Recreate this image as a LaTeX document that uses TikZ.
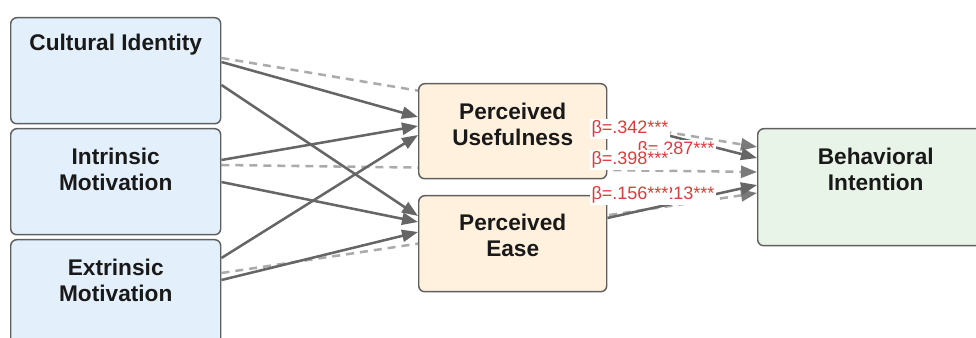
\documentclass[tikz,border=0pt]{standalone}
\usepackage{fontspec}
\setmainfont{Liberation Sans}
\usetikzlibrary{arrows.meta,calc}
\definecolor{edgegray}{HTML}{666666}
\definecolor{dashgray}{HTML}{ABABAB}
\definecolor{dashhead}{HTML}{7A7A7A}
\definecolor{boxborder}{HTML}{5F5F5F}
\definecolor{cblue}{HTML}{E3F0FC}
\definecolor{corange}{HTML}{FFF1DE}
\definecolor{cgreen}{HTML}{E8F4E8}
\definecolor{coefred}{HTML}{DE3B3B}
\pgfdeclarelayer{background}
\pgfsetlayers{background,main}
\begin{document}
\begin{tikzpicture}[x=0.75pt,y=-0.75pt,
  box/.style={draw=boxborder, line width=1.1pt, rounded corners=4.5pt,
    anchor=north west, inner sep=0pt},
  nodetitle/.style={font=\bfseries\fontsize{17pt}{19.5pt}\selectfont,
    align=center, text=black!90, inner sep=0pt, anchor=north},
  path/.style={draw=edgegray, line width=1.9pt,
    -{Triangle[length=12pt,width=9pt]}},
  direct/.style={draw=dashgray, line width=1.9pt, dash pattern=on 6pt off 4.5pt,
    -{Triangle[length=12pt,width=9pt,color=dashhead]}},
  coef/.style={fill=white, text=coefred, font=\fontsize{13.5pt}{16pt}\selectfont,
    inner xsep=1.5pt, inner ysep=1pt}]
\useasboundingbox (0,0) rectangle (976,338);

% constructs
\node[box, fill=cblue, minimum width=157.5pt, minimum height=79.5pt,
  label={[nodetitle, yshift=-12.75pt]north:Cultural Identity}] (ci) at (10,17) {};
\node[box, fill=cblue, minimum width=157.5pt, minimum height=79.5pt,
  label={[nodetitle, yshift=-15pt]north:Intrinsic\\Motivation}] (im) at (10,128) {};
\node[box, fill=cblue, minimum width=157.5pt, minimum height=79.5pt,
  label={[nodetitle, yshift=-15pt]north:Extrinsic\\Motivation}] (em) at (10,239) {};
\node[box, fill=corange, minimum width=141pt, minimum height=71.25pt,
  label={[nodetitle, yshift=-15pt]north:Perceived\\Usefulness}] (pu) at (418,83) {};
\node[box, fill=corange, minimum width=141pt, minimum height=72pt,
  label={[nodetitle, yshift=-14.25pt]north:Perceived\\Ease}] (pe) at (418,195) {};
\node[box, fill=cgreen, minimum width=177pt, minimum height=87.75pt,
  label={[nodetitle, yshift=-15pt]north:Behavioral\\Intention}] (bi) at (757,128) {};

\begin{pgfonlayer}{background}
% direct effects on intention
\draw[direct] ($(ci.north east)+(0,41)$) -- ($(bi.north west)+(0,19)$);
\draw[direct] ($(im.north east)+(0,37)$) -- ($(bi.north west)+(0,44)$);
\draw[direct] ($(em.north east)+(0,34)$) -- ($(bi.north west)+(0,65)$);
% antecedents of usefulness and ease
\draw[path] ($(ci.north east)+(0,45)$) -- ($(pu.north west)+(0,34)$);
\draw[path] ($(ci.north east)+(0,68)$) -- ($(pe.north west)+(0,21)$);
\draw[path] ($(im.north east)+(0,32)$) -- ($(pu.north west)+(0,43)$);
\draw[path] ($(im.north east)+(0,54)$) -- ($(pe.north west)+(0,27)$);
\draw[path] ($(em.north east)+(0,19)$) -- ($(pu.north west)+(0,52)$);
\draw[path] ($(em.north east)+(0,41)$) -- ($(pe.north west)+(0,37)$);
% mediators to intention
\draw[path] ($(pu.north east)+(0,37)$) -- ($(bi.north west)+(0,30)$);
\draw[path] ($(pe.north east)+(0,23)$) -- ($(bi.north west)+(0,57)$);
\end{pgfonlayer}

% path coefficients
\node[coef] (c1) at (630,129) {β=.342***};
\node[coef] (c2) at (676,150) {β=.287***};
\node[coef] (c3) at (630,160) {β=.398***};
\node[coef] (c4) at (676,195) {β=.213***};
\node[coef] (c5) at (630,195) {β=.156***};
\end{tikzpicture}
\end{document}
